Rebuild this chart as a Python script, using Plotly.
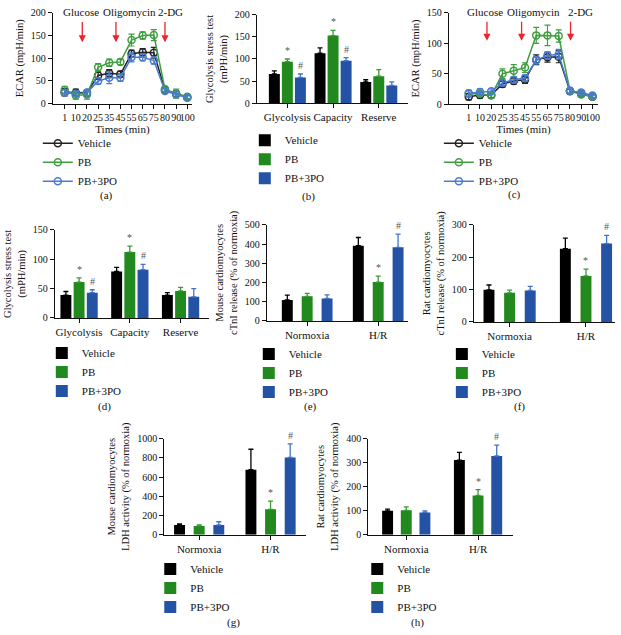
import plotly.graph_objects as go

W, H = 621, 635
FONT = "Liberation Serif"

# ---------------- data ----------------
series_names = ["Vehicle", "PB", "PB+3PO"]
times = ["1", "10", "20", "25", "35", "45", "55", "65", "75", "80", "90", "100"]

# (a) ECAR time course
a_vehicle = [25, 24, 24, 62, 67, 65, 110, 113, 112, 30, 22, 14]
a_vehicle_err = [8, 8, 7, 8, 8, 6, 8, 8, 12, 6, 6, 4]
a_pb = [30, 18, 20, 80, 90, 92, 140, 150, 151, 32, 22, 15]
a_pb_err = [8, 8, 10, 8, 8, 6, 13, 8, 12, 5, 10, 4]
a_3po = [24, 22, 24, 50, 57, 57, 102, 102, 95, 28, 20, 13]
a_3po_err = [6, 6, 6, 7, 13, 8, 10, 8, 8, 5, 6, 4]

# (c) ECAR time course
c_vehicle = [12, 15, 15, 33, 38, 40, 73, 77, 78, 21, 17, 12]
c_vehicle_err = [5, 5, 5, 5, 5, 6, 8, 8, 10, 4, 4, 3]
c_pb = [17, 17, 14, 50, 55, 60, 113, 113, 112, 22, 16, 12]
c_pb_err = [5, 4, 4, 8, 10, 8, 13, 17, 10, 4, 4, 3]
c_3po = [18, 20, 21, 35, 40, 43, 72, 80, 82, 22, 19, 14]
c_3po_err = [5, 5, 4, 5, 5, 5, 6, 6, 8, 4, 4, 3]

injections = ["Glucose", "Oligomycin", "2-DG"]

glyco_cats = ["Glycolysis", "Capacity", "Reserve"]
cond_cats = ["Normoxia", "H/R"]

# (b) glycolysis stress test
b_vehicle = [66, 113, 48]
b_vehicle_err = [7, 12, 5]
b_pb = [94, 153, 61]
b_pb_err = [6, 12, 15]
b_3po = [58, 96, 40]
b_3po_err = [8, 7, 8]

# (d) glycolysis stress test
d_vehicle = [39, 79, 39]
d_vehicle_err = [6, 7, 4]
d_pb = [61, 112, 46]
d_pb_err = [7, 10, 6]
d_3po = [43, 82, 36]
d_3po_err = [5, 9, 14]

# (e) mouse cTnI
e_vehicle = [109, 391]
e_vehicle_err = [25, 43]
e_pb = [128, 202]
e_pb_err = [15, 31]
e_3po = [117, 383]
e_3po_err = [19, 68]

# (f) rat cTnI
f_vehicle = [99, 226]
f_vehicle_err = [15, 33]
f_pb = [90, 142]
f_pb_err = [8, 21]
f_3po = [97, 242]
f_3po_err = [13, 25]

# (g) mouse LDH
g_vehicle = [102, 677]
g_vehicle_err = [11, 213]
g_pb = [92, 265]
g_pb_err = [10, 85]
g_3po = [102, 804]
g_3po_err = [34, 141]

# (h) rat LDH
h_vehicle = [100, 311]
h_vehicle_err = [7, 32]
h_pb = [102, 164]
h_pb_err = [14, 24]
h_3po = [93, 328]
h_3po_err = [7, 45]

sig_pb_glyco = ["*", "*", ""]
sig_3po_glyco = ["#", "#", ""]
sig_pb_cond = ["", "*"]
sig_3po_cond = ["", "#"]

# ---------------- styles ----------------
line_colors = ["#222222", "#3f9f3f", "#4a7bd2"]
bar_colors = ["#000000", "#22891f", "#2453a6"]
err_colors = ["#000000", "#3a9a36", "#4473c4"]

def px_x(p):
    return p / W

def px_y(p):
    return 1 - p / H

fig = go.Figure()
layout = dict(
    width=W, height=H, margin=dict(l=0, r=0, t=0, b=0),
    paper_bgcolor="white", plot_bgcolor="white",
    font=dict(family=FONT, size=10, color="#111111"),
    showlegend=True,
)
annotations = []

def axis_common():
    return dict(showline=True, linecolor="#111111", linewidth=1, ticks="outside",
                ticklen=4, tickwidth=1, tickcolor="#111111", showgrid=False,
                zeroline=False, fixedrange=True)

def setup_axes(n, xdom, ydom, xrange, yrange, ytick, ytitle, xtickvals, xticktext,
               xtitle=None, xfont=10, ystandoff=5):
    xs = "xaxis" if n == 1 else f"xaxis{n}"
    ys = "yaxis" if n == 1 else f"yaxis{n}"
    xa = axis_common()
    xa.update(domain=[px_x(xdom[0]), px_x(xdom[1])], range=xrange,
              anchor="y" if n == 1 else f"y{n}",
              tickvals=xtickvals, ticktext=xticktext, tickangle=0,
              tickfont=dict(size=xfont, family=FONT))
    if xtitle:
        xa["title"] = dict(text=xtitle, font=dict(size=11, family=FONT), standoff=3)
    ya = axis_common()
    ya.update(domain=[px_y(ydom[1]), px_y(ydom[0])], range=yrange,
              anchor="x" if n == 1 else f"x{n}", dtick=ytick,
              tickfont=dict(size=10, family=FONT),
              title=dict(text=ytitle, font=dict(size=10.5, family=FONT), standoff=ystandoff))
    layout[xs] = xa
    layout[ys] = ya

def legend_spec(left, top):
    return dict(x=px_x(left), y=px_y(top), xanchor="left", yanchor="top",
                bgcolor="rgba(0,0,0,0)", font=dict(size=11, family=FONT),
                tracegroupgap=0)

def panel_label(text, cx, cy):
    annotations.append(dict(text=text, x=px_x(cx), y=px_y(cy), xref="paper", yref="paper",
                            xanchor="center", yanchor="middle",
                            showarrow=False, font=dict(size=11, family=FONT)))

# ---------------- line panels ----------------
def line_panel(n, legname, xdom, ydom, xrange, yrange, ytick, series, errs,
               arrow_x, arrow_y, label_x, leg):
    xs = list(range(len(times)))
    xr = "x" if n == 1 else f"x{n}"
    yr = "y" if n == 1 else f"y{n}"
    for i, (name, vals, e) in enumerate(zip(series_names, series, errs)):
        fig.add_trace(go.Scatter(
            x=xs, y=vals, name=name, mode="lines+markers",
            xaxis=xr, yaxis=yr,
            line=dict(color=line_colors[i], width=1.5),
            marker=dict(symbol="circle-open", size=7, color=line_colors[i],
                        line=dict(width=1.5, color=line_colors[i])),
            error_y=dict(type="data", array=e, color=line_colors[i], thickness=1.2, width=3),
            legend=legname, cliponaxis=False,
        ))
    setup_axes(n, xdom, ydom, xrange, yrange, ytick, "ECAR (mpH/min)", xs, times,
               xtitle="Times (min)", xfont=10)
    for ax_, lx, lab in zip(arrow_x, label_x, injections):
        annotations.append(dict(x=ax_, y=arrow_y[0], ax=ax_, ay=arrow_y[1], xref=xr, yref=yr,
                                axref=xr, ayref=yr, showarrow=True, arrowhead=2,
                                arrowsize=1.1, arrowwidth=1.3, arrowcolor="#e8262b", text=""))
        annotations.append(dict(x=lx, y=yrange[1], xref=xr, yref=yr, text=lab, showarrow=False,
                                yshift=1, font=dict(size=11, family=FONT)))
    layout[legname] = leg

line_panel(1, "legend", (53, 193), (7, 99.5), [-1.07, 11.43], [0, 200], 50,
           [a_vehicle, a_pb, a_3po], [a_vehicle_err, a_pb_err, a_3po_err],
           [1.58, 4.6, 9.0], [135, 183], [1.49, 5.8, 9.5],
           legend_spec(38, 125))
line_panel(3, "legend3", (451, 601), (7, 100), [-1.77, 11.5], [0, 150], 50,
           [c_vehicle, c_pb, c_3po], [c_vehicle_err, c_pb_err, c_3po_err],
           [1.62, 4.7, 9.05], [104, 138], [1.45, 5.77, 9.9],
           legend_spec(441, 125))

# ---------------- bar panels ----------------
def bar_panel(n, legname, xdom, ydom, xrange, yrange, ytick, ytitle, cats, series, errs,
              sigs, bw, step, leg):
    xs = list(range(len(cats)))
    xr = "x" if n == 1 else f"x{n}"
    yr = "y" if n == 1 else f"y{n}"
    for i, (name, vals, e) in enumerate(zip(series_names, series, errs)):
        off = (i - 1) * step - bw / 2
        fig.add_trace(go.Bar(
            x=xs, y=vals, name=name, width=bw, offset=off,
            xaxis=xr, yaxis=yr,
            marker=dict(color=bar_colors[i], line=dict(width=0)),
            error_y=dict(type="data", array=e, arrayminus=[0] * len(e), symmetric=False,
                         color=err_colors[i], thickness=1.3, width=2.5),
            legend=legname,
        ))
        if sigs[i]:
            for xi, v, ev, s in zip(xs, vals, e, sigs[i]):
                if s:
                    annotations.append(dict(x=xi + (i - 1) * step, y=v + ev, xref=xr, yref=yr,
                                            text=s, showarrow=False, yanchor="bottom", yshift=1,
                                            font=dict(size=10, family=FONT, color="#555555")))
    setup_axes(n, xdom, ydom, xrange, yrange, ytick, ytitle, xs, cats, xfont=11)
    layout[legname] = leg

glyco_title = "Glycolysis stress test<br>(mPH/min)"
bar_panel(2, "legend2", (258, 410), (9, 99), [-0.67, 2.64], [0, 200], 50, glyco_title,
          glyco_cats, [b_vehicle, b_pb, b_3po], [b_vehicle_err, b_pb_err, b_3po_err],
          [None, sig_pb_glyco, sig_3po_glyco], 0.24, 0.285, legend_spec(246, 122))
bar_panel(4, "legend4", (55, 210), (228, 318), [-0.48, 2.56], [0, 150], 50, glyco_title,
          glyco_cats, [d_vehicle, d_pb, d_3po], [d_vehicle_err, d_pb_err, d_3po_err],
          [None, sig_pb_glyco, sig_3po_glyco], 0.215, 0.26, legend_spec(42, 339))
bar_panel(5, "legend5", (268, 410), (223, 321), [-0.57, 1.42], [0, 500], 100,
          "Mouse cardiomyocytes<br>cTnI release (% of normoxia)",
          cond_cats, [e_vehicle, e_pb, e_3po], [e_vehicle_err, e_pb_err, e_3po_err],
          [None, sig_pb_cond, sig_3po_cond], 0.154, 0.28, legend_spec(250, 340))
bar_panel(6, "legend6", (476, 618), (223, 322), [-0.47, 1.38], [0, 300], 100,
          "Rat cardiomyocytes<br>cTnI release (% of normoxia)",
          cond_cats, [f_vehicle, f_pb, f_3po], [f_vehicle_err, f_pb_err, f_3po_err],
          [None, sig_pb_cond, sig_3po_cond], 0.143, 0.27, legend_spec(444, 340))
bar_panel(7, "legend7", (165, 307), (441, 539), [-0.49, 1.49], [0, 1000], 200,
          "Mouse cardiomyocytes<br>LDH activity (% of normoxia)",
          cond_cats, [g_vehicle, g_pb, g_3po], [g_vehicle_err, g_pb_err, g_3po_err],
          [None, sig_pb_cond, sig_3po_cond], 0.153, 0.275, legend_spec(151, 559))
bar_panel(8, "legend8", (370, 515), (441, 539), [-0.53, 1.48], [0, 400], 100,
          "Rat cardiomyocytes<br>LDH activity (% of normoxia)",
          cond_cats, [h_vehicle, h_pb, h_3po], [h_vehicle_err, h_pb_err, h_3po_err],
          [None, sig_pb_cond, sig_3po_cond], 0.152, 0.26, legend_spec(359, 559))

for lab, cx, cy in [("(a)", 107, 193), ("(b)", 310, 194), ("(c)", 517, 192),
                    ("(d)", 105, 408), ("(e)", 312, 408), ("(f)", 522, 408),
                    ("(g)", 235, 628), ("(h)", 420, 628)]:
    panel_label(lab, cx, cy)

layout["annotations"] = annotations
fig.update_layout(**layout)

fig.write_html("out.html", config={"displayModeBar": False},
               post_script="document.body.style.margin='0';")
